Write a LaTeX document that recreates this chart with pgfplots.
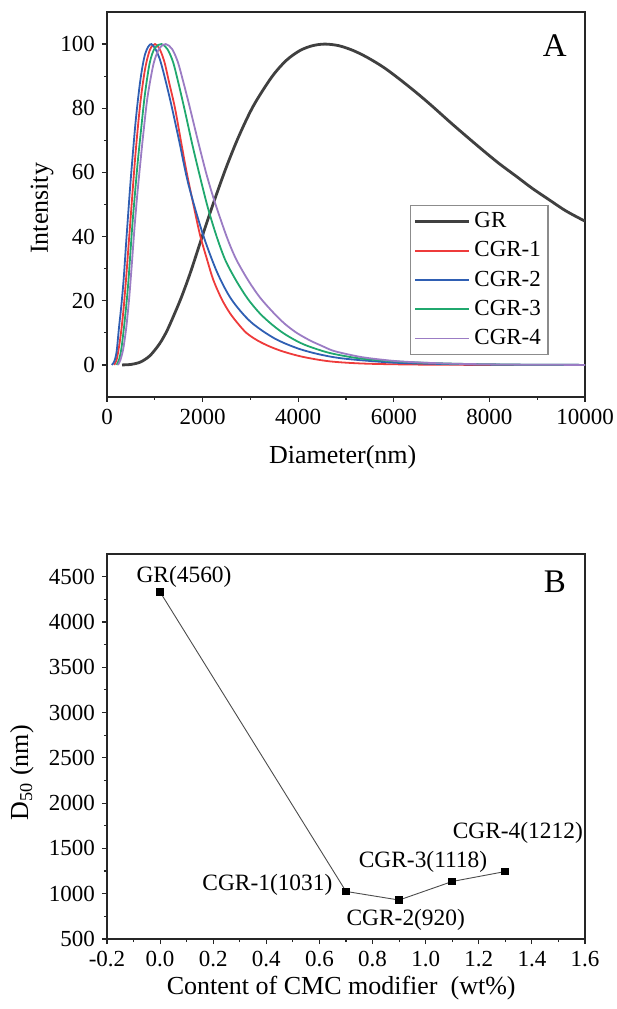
\documentclass[border=0pt]{standalone}
\usepackage{pgfplots}
\pgfplotsset{compat=1.18}
\usepackage{fontspec}
\setmainfont{Liberation Serif}
\definecolor{cgrone}{HTML}{EE3B3B}
\definecolor{cgrtwo}{HTML}{2F5FB3}
\definecolor{cgrthree}{HTML}{20A86E}
\definecolor{cgrfour}{HTML}{9B7CC4}
\definecolor{grc}{HTML}{404040}
\pgfplotsset{
  commonstyle/.style={
    scale only axis, width=239pt, height=192.5pt, anchor=south west,
    tick align=outside, xtick pos=left, ytick pos=left,
    major tick length=2.5pt, minor tick length=1.5pt,
    every tick/.style={black!85, line width=0.6pt},
    axis line style={line width=0.75pt, black!85},
    tick label style={font=\fontsize{11.5}{13}\selectfont},
    label style={font=\fontsize{13}{15}\selectfont},
    /pgf/number format/assume math mode=true,
    /pgf/number format/1000 sep={},
    scaled ticks=false,
    minor x tick num=1, minor y tick num=1,
  }
}
\begin{document}
\begin{tikzpicture}
\useasboundingbox (0pt,0pt) rectangle (308.5pt,504.5pt);
\begin{axis}[commonstyle, at={(53.5pt,306pt)},
  xmin=0, xmax=10000, ymin=-10, ymax=110,
  xtick={0,2000,4000,6000,8000,10000}, ytick={0,20,40,60,80,100},
  xlabel={Diameter(nm)}, ylabel={Intensity},
  xlabel style={at={(axis description cs:0.493,-0.156)}, anchor=center},
  ylabel style={at={(axis description cs:-0.136,0.49)}, anchor=center},
  legend style={at={(0.634,0.499)}, anchor=north west, draw=black!45, line width=0.6pt,
    font=\fontsize{11.5}{13}\selectfont, inner xsep=1.5pt, inner ysep=1.5pt, row sep=1.5pt,
    /tikz/every even column/.append style={column sep=0pt}},
  legend cell align=left,
  legend image code/.code={\draw[#1] (0pt,0pt) -- (27pt,0pt);},
]
\addplot[grc, line width=1.4pt, smooth] coordinates {
(314,0)(500,0.15)(700,0.9)(900,2.9)(1100,6.6)(1250,10.5)(1400,15.5)(1562,21.3)(1750,29)(1980,39.5)(2200,49.3)(2480,61)(2750,71)(3061,80.7)(3445,89.7)(3750,94.9)(4038,98)(4300,99.5)(4560,100)(4850,99.5)(5150,98)(5450,95.8)(5782,92.8)(6100,89.3)(6478,84.8)(6800,80.7)(7175,75.7)(7500,71.5)(7872,66.8)(8200,62.8)(8570,58.7)(8900,55)(9267,51.3)(9600,48)(10000,44.8)
};
\addlegendentry{GR}
\addplot[cgrone, line width=0.9pt, smooth] coordinates {
(150,0)(200,1.5)(250,5.5)(300,10.9)(350,18)(400,27)(450,37)(500,47)(600,66.5)(700,82)(800,92.5)(900,98.3)(1004,100)(1100,98.5)(1200,94.5)(1300,88)(1423,80)(1550,69.5)(1667,60)(1800,50.5)(1946,40.5)(2100,32.5)(2224,26.5)(2400,20.5)(2573,16.1)(2750,12.7)(2922,9.9)(3150,7.6)(3410,5.7)(3700,4.1)(4100,2.5)(4665,1.1)(5400,0.4)(6500,0.1)(8000,0)(10000,0)
};
\addlegendentry{CGR-1}
\addplot[cgrtwo, line width=0.9pt, smooth] coordinates {
(100,0)(150,1)(200,4)(250,11.5)(300,18.5)(350,27)(400,38)(450,48.5)(500,58.5)(600,76)(700,89)(800,97)(930,100)(1100,95.5)(1300,84)(1500,70.5)(1700,56.5)(2000,41)(2300,29)(2600,20.5)(3000,13.5)(3500,8.3)(4000,5.1)(4500,3.1)(5000,1.9)(6000,0.7)(7000,0.3)(8000,0.1)(10000,0)
};
\addlegendentry{CGR-2}
\addplot[cgrthree, line width=0.9pt, smooth] coordinates {
(200,0)(250,1.5)(300,5)(349,10.9)(400,18)(450,26.5)(523,42.1)(580,52.5)(641,62.9)(700,71.5)(788,83.7)(892,94)(1000,98.8)(1140,100)(1260,98.5)(1380,94.5)(1500,87.5)(1632,79)(1780,69)(1940,59)(2110,49)(2294,40)(2480,32.5)(2713,26)(2950,20.5)(3201,16)(3450,12.6)(3689,9.9)(3950,7.6)(4200,5.9)(4665,3.7)(5300,2.0)(6130,1.0)(7200,0.4)(8500,0.1)(10000,0)
};
\addlegendentry{CGR-3}
\addplot[cgrfour, line width=0.9pt, smooth] coordinates {
(230,0)(280,1.5)(340,5)(397,10.9)(430,15.5)(467,21.3)(520,31.5)(572,42.1)(630,52.5)(697,62.9)(770,73.5)(850,83.7)(976,94)(1100,98.8)(1230,100)(1360,98.5)(1480,94.5)(1600,88)(1720,81)(1900,70)(2080,59.5)(2250,51)(2503,40)(2700,33)(2956,26.3)(3201,21)(3480,16.3)(3720,12.8)(3968,10)(4250,7.6)(4500,5.9)(4735,4.4)(5100,3.1)(5432,2.2)(6130,1.1)(7180,0.4)(8500,0.1)(10000,0)
};
\addlegendentry{CGR-4}
\node[font=\fontsize{16.5}{18}\selectfont] at (rel axis cs:0.937,0.914) {A};
\end{axis}

\begin{axis}[commonstyle, at={(53.5pt,35pt)},
  xmin=-0.2, xmax=1.6, ymin=500, ymax=4750,
  xtick={-0.2,0,0.2,0.4,0.6,0.8,1.0,1.2,1.4,1.6},
  ytick={500,1000,1500,2000,2500,3000,3500,4000,4500},
  xticklabel style={/pgf/number format/.cd, fixed, fixed zerofill, precision=1},
  xlabel={Content of CMC modifier\ \ (wt\%)}, ylabel={D\textsubscript{50} (nm)},
  xlabel style={at={(axis description cs:0.49,-0.127)}, anchor=center},
  ylabel style={at={(axis description cs:-0.178,0.432)}, anchor=center},
]
\addplot[black!70, line width=0.45pt, mark=square*, mark size=1.7pt,
  mark options={fill=black, draw=black, solid}] coordinates {
(0,4330)(0.7,1025)(0.9,930)(1.1,1135)(1.3,1245)
};
\node[font=\fontsize{11.7}{13}\selectfont] at (axis cs:0.09,4500) {GR(4560)};
\node[font=\fontsize{11.7}{13}\selectfont] at (axis cs:0.404,1096) {CGR-1(1031)};
\node[font=\fontsize{11.7}{13}\selectfont] at (axis cs:0.925,710) {CGR-2(920)};
\node[font=\fontsize{11.7}{13}\selectfont] at (axis cs:0.99,1353) {CGR-3(1118)};
\node[font=\fontsize{11.7}{13}\selectfont] at (axis cs:1.347,1667) {CGR-4(1212)};
\node[font=\fontsize{16.5}{18}\selectfont] at (rel axis cs:0.937,0.927) {B};
\end{axis}
\end{tikzpicture}
\end{document}
